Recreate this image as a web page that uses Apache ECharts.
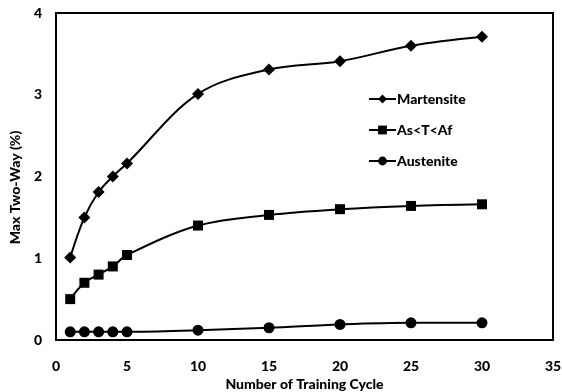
<!DOCTYPE html>
<html>
<head>
<meta charset="utf-8">
<script src="https://cdn.jsdelivr.net/npm/echarts@6/dist/echarts.min.js"></script>
<style>
  html, body { margin: 0; padding: 0; background: #fff; }
  #chart { width: 562px; height: 392px; }
</style>
</head>
<body>
<div id="chart"></div>
<script>
// Training cycles on the x axis
const cycles = [1, 2, 3, 4, 5, 10, 15, 20, 25, 30];

// Maximum two-way strain (%) per training temperature condition
const martensite = [1.01, 1.50, 1.81, 2.00, 2.16, 3.01, 3.31, 3.41, 3.60, 3.71];
const betweenAsAf = [0.50, 0.70, 0.80, 0.90, 1.04, 1.40, 1.53, 1.60, 1.64, 1.66];
const austenite = [0.10, 0.10, 0.10, 0.10, 0.10, 0.12, 0.15, 0.19, 0.21, 0.21];

const seriesNames = ['Martensite', 'As<T<Af', 'Austenite'];

const FONT = 'Lato, "Open Sans", sans-serif';
const WEIGHT = 900;

function pairs(values) {
  return cycles.map((c, i) => [c, values[i]]);
}

function lineSeries(name, values, symbol, size) {
  return {
    name: name,
    type: 'line',
    data: pairs(values),
    smooth: 0.35,
    symbol: symbol,
    symbolSize: size,
    lineStyle: { color: '#000', width: 2 },
    itemStyle: { color: '#000' },
    emphasis: { disabled: true }
  };
}

const chart = echarts.init(document.getElementById('chart'), null, { renderer: 'canvas' });

chart.setOption({
  animation: false,
  backgroundColor: '#fff',
  textStyle: { fontFamily: FONT },
  grid: {
    left: 56, right: 9, top: 13, bottom: 52,
    outerBoundsMode: 'none',
    containLabel: false,
    show: true,
    borderColor: '#000',
    borderWidth: 2,
    backgroundColor: 'transparent'
  },
  legend: {
    orient: 'vertical',
    left: 363,
    top: 87,
    itemWidth: 27,
    itemHeight: 11,
    itemGap: 17,
    data: seriesNames,
    textStyle: { color: '#000', fontWeight: WEIGHT, fontSize: 14, fontFamily: FONT, padding: [0, 0, 0, -4] }
  },
  xAxis: {
    type: 'value',
    min: 0, max: 35, interval: 5,
    name: 'Number of Training Cycle',
    nameLocation: 'middle',
    nameGap: 32,
    nameTextStyle: { color: '#000', fontWeight: WEIGHT, fontSize: 14, fontFamily: FONT },
    axisLine: { show: true, lineStyle: { color: '#000', width: 2 } },
    axisTick: { show: false },
    splitLine: { show: false },
    axisLabel: { color: '#000', fontWeight: WEIGHT, fontSize: 14, fontFamily: FONT, margin: 19 }
  },
  yAxis: {
    type: 'value',
    min: 0, max: 4, interval: 1,
    name: 'Max Two-Way (%)',
    nameLocation: 'middle',
    nameGap: 32,
    nameRotate: 90,
    nameTextStyle: { color: '#000', fontWeight: WEIGHT, fontSize: 14, fontFamily: FONT, padding: [0, 22, 0, 0] },
    axisLine: { show: true, lineStyle: { color: '#000', width: 2 } },
    axisTick: { show: false },
    splitLine: { show: false },
    axisLabel: { color: '#000', fontWeight: WEIGHT, fontSize: 14, fontFamily: FONT, margin: 14 }
  },
  series: [
    lineSeries(seriesNames[0], martensite, 'diamond', 12),
    lineSeries(seriesNames[1], betweenAsAf, 'rect', 10),
    lineSeries(seriesNames[2], austenite, 'circle', 11)
  ]
});
</script>
</body>
</html>
